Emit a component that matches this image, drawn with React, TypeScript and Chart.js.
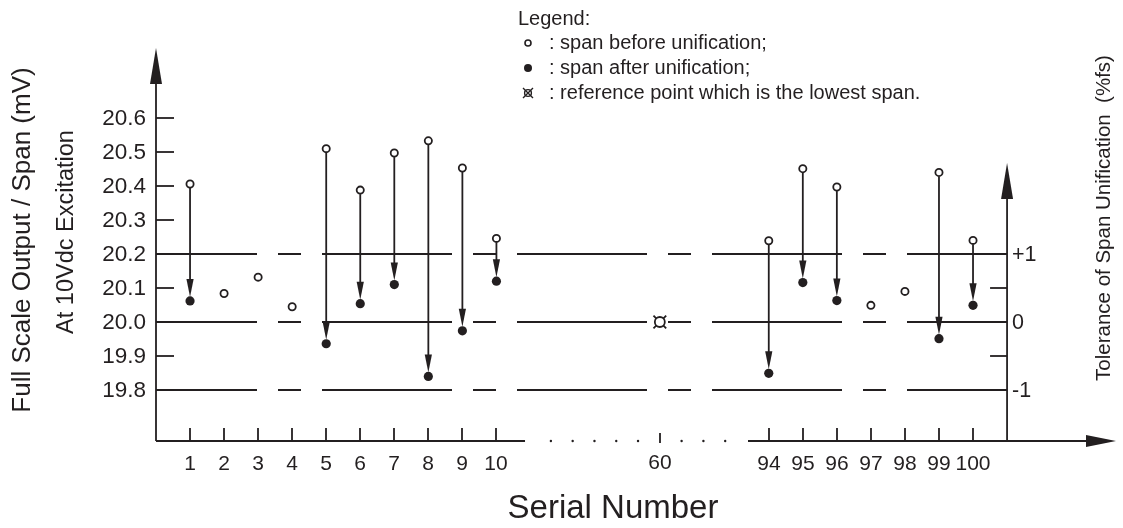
import React, { useEffect, useRef } from 'react';
import { Chart, registerables } from 'chart.js';

Chart.register(...registerables);

// ---------- data ----------
const serialLabels = ['1', '2', '3', '4', '5', '6', '7', '8', '9', '10', '94', '95', '96', '97', '98', '99', '100'];
const serialSlots = [1, 2, 3, 4, 5, 6, 7, 8, 9, 10, 18, 19, 20, 21, 22, 23, 24];
const spanBefore = [20.406, 20.084, 20.132, 20.045, 20.51, 20.388, 20.497, 20.533, 20.453, 20.246, 20.239, 20.451, 20.397, 20.049, 20.09, 20.44, 20.24];
const spanAfter: (number | null)[] = [20.062, null, null, null, 19.936, 20.054, 20.11, 19.84, 19.974, 20.12, 19.849, 20.116, 20.063, null, null, 19.951, 20.049];
const referenceLabel = '60';
const referenceSlot = 14.8;
const referenceSpan = 20.0;
const spanTicks = [19.8, 19.9, 20.0, 20.1, 20.2, 20.3, 20.4, 20.5, 20.6];
const toleranceTicks = [-1, -0.5, 0, 0.5, 1];
const toleranceLabels = ['-1', '', '0', '', '+1'];
const toleranceLines = [1, 0, -1];
const legendTitle = 'Legend:';
const legendLines = [': span before unification;', ': span after unification;', ': reference point which is the lowest span.'];
const yTitle = 'Full Scale Output / Span (mV)';
const ySubTitle = 'At 10Vdc Excitation';
const y2Title = 'Tolerance of Span Unification  (%fs)';
const xTitle = 'Serial Number';

const INK = '#231f20';
const FONT = '"Liberation Sans", Arial, Helvetica, sans-serif';

function fillArrow(ctx: CanvasRenderingContext2D, tx: number, ty: number, dx: number, dy: number, len: number, half: number) {
  const bx = tx - dx * len;
  const by = ty - dy * len;
  const nx = -dy;
  const ny = dx;
  ctx.beginPath();
  ctx.moveTo(tx, ty);
  ctx.lineTo(bx + nx * half, by + ny * half);
  ctx.lineTo(bx - nx * half, by - ny * half);
  ctx.closePath();
  ctx.fill();
}

const diagramPlugin = {
  id: 'diagram',
  beforeDatasetsDraw(chart: any) {
    const ctx: CanvasRenderingContext2D = chart.ctx;
    const xs = chart.scales.x;
    const ys = chart.scales.y;
    const ts = chart.scales.y2;
    const X = (v: number) => xs.getPixelForValue(v);
    const Y = (v: number) => ys.getPixelForValue(v);
    const T = (v: number) => ts.getPixelForValue(v);
    const area = chart.chartArea;
    const x0 = X(0);
    const xR = X(25);
    const yB = area.bottom;
    ctx.save();
    ctx.strokeStyle = INK;
    ctx.fillStyle = INK;
    ctx.lineWidth = 1.8;
    ctx.lineCap = 'butt';

    // tolerance lines (long-short dash)
    ctx.save();
    ctx.setLineDash([130, 21, 23, 21]);
    ctx.lineDashOffset = 29;
    toleranceLines.forEach((t) => {
      const y = Math.round(T(t));
      ctx.beginPath();
      ctx.moveTo(x0, y);
      ctx.lineTo(xR, y);
      ctx.stroke();
    });
    ctx.restore();

    // left axis
    ctx.beginPath();
    ctx.moveTo(x0, yB);
    ctx.lineTo(x0, area.top + 30);
    ctx.stroke();
    fillArrow(ctx, x0, area.top, 0, -1, 36, 6);
    ctx.font = `22.5px ${FONT}`;
    ctx.textAlign = 'right';
    ctx.textBaseline = 'middle';
    spanTicks.forEach((v) => {
      const y = Math.round(Y(v));
      ctx.beginPath();
      ctx.moveTo(x0, y);
      ctx.lineTo(x0 + 18, y);
      ctx.stroke();
      ctx.fillText(v.toFixed(1), x0 - 10, y + 1);
    });

    // right axis
    const rTip = T(2.34);
    ctx.beginPath();
    ctx.moveTo(xR, yB);
    ctx.lineTo(xR, rTip + 30);
    ctx.stroke();
    fillArrow(ctx, xR, rTip, 0, -1, 36, 6);
    ctx.textAlign = 'left';
    ctx.font = `21.5px ${FONT}`;
    toleranceTicks.forEach((t, i) => {
      const y = Math.round(T(t));
      ctx.beginPath();
      ctx.moveTo(xR, y);
      ctx.lineTo(xR - 17, y);
      ctx.stroke();
      if (toleranceLabels[i]) ctx.fillText(toleranceLabels[i], xR + 5, y + 1);
    });

    // bottom axis (broken)
    const xEnd = area.right;
    ctx.beginPath();
    ctx.moveTo(x0, yB);
    ctx.lineTo(X(10.84), yB);
    ctx.moveTo(X(17.39), yB);
    ctx.lineTo(xEnd - 28, yB);
    ctx.stroke();
    fillArrow(ctx, xEnd, yB, 1, 0, 30, 6);
    for (let k = -5; k <= 3; k++) {
      if (k === 0) continue;
      ctx.beginPath();
      ctx.arc(X(referenceSlot + k * 0.64), yB, 1.2, 0, Math.PI * 2);
      ctx.fill();
    }
    ctx.font = `21px ${FONT}`;
    ctx.textAlign = 'center';
    ctx.textBaseline = 'middle';
    serialSlots.forEach((s, i) => {
      const x = Math.round(X(s));
      ctx.beginPath();
      ctx.moveTo(x, yB);
      ctx.lineTo(x, yB - 13);
      ctx.stroke();
      ctx.fillText(serialLabels[i], x, yB + 23);
    });
    {
      const x = Math.round(X(referenceSlot));
      ctx.beginPath();
      ctx.moveTo(x, yB + 2);
      ctx.lineTo(x, yB - 8);
      ctx.stroke();
      ctx.fillText(referenceLabel, x, yB + 22);
    }

    // arrows before -> after
    ctx.lineWidth = 1.8;
    serialSlots.forEach((s, i) => {
      const a = spanAfter[i];
      if (a == null) return;
      const x = X(s);
      const y1 = Y(spanBefore[i]) + 4;
      const tip = Y(a) - 4;
      ctx.beginPath();
      ctx.moveTo(x, y1);
      ctx.lineTo(x, tip - 12);
      ctx.stroke();
      fillArrow(ctx, x, tip, 0, 1, 18, 3.6);
    });

    // titles
    ctx.textAlign = 'center';
    ctx.textBaseline = 'middle';
    ctx.save();
    ctx.translate(23, 240);
    ctx.rotate(-Math.PI / 2);
    ctx.font = `26px ${FONT}`;
    ctx.fillText(yTitle, 0, 0);
    ctx.restore();
    ctx.save();
    ctx.translate(67, 232);
    ctx.rotate(-Math.PI / 2);
    ctx.font = `23.5px ${FONT}`;
    ctx.fillText(ySubTitle, 0, 0);
    ctx.restore();
    ctx.save();
    ctx.translate(1104, 218);
    ctx.rotate(-Math.PI / 2);
    ctx.font = `20.5px ${FONT}`;
    ctx.fillText(y2Title, 0, 0);
    ctx.restore();
    ctx.font = `33px ${FONT}`;
    ctx.fillText(xTitle, 613, 509);

    // legend
    ctx.textAlign = 'left';
    ctx.font = `20px ${FONT}`;
    ctx.fillText(legendTitle, 518, 19);
    const rows = [43, 68, 93];
    legendLines.forEach((t, i) => ctx.fillText(t, 549, rows[i]));
    const mx = 528;
    ctx.lineWidth = 1.6;
    ctx.fillStyle = '#ffffff';
    ctx.beginPath();
    ctx.arc(mx, rows[0], 3, 0, Math.PI * 2);
    ctx.fill();
    ctx.stroke();
    ctx.fillStyle = INK;
    ctx.beginPath();
    ctx.arc(mx, rows[1], 4, 0, Math.PI * 2);
    ctx.fill();
    ctx.lineWidth = 1.4;
    ctx.beginPath();
    ctx.arc(mx, rows[2], 3.4, 0, Math.PI * 2);
    ctx.stroke();
    ctx.beginPath();
    ctx.moveTo(mx - 5, rows[2] - 5);
    ctx.lineTo(mx + 5, rows[2] + 5);
    ctx.moveTo(mx + 5, rows[2] - 5);
    ctx.lineTo(mx - 5, rows[2] + 5);
    ctx.stroke();

    ctx.restore();
  },
};

export default function App() {
  const ref = useRef<HTMLCanvasElement | null>(null);
  useEffect(() => {
    if (!ref.current) return;
    const beforePts = serialSlots.map((s, i) => ({ x: s, y: spanBefore[i] }));
    const afterPts = serialSlots
      .map((s, i) => ({ x: s, y: spanAfter[i] }))
      .filter((p) => p.y != null) as { x: number; y: number }[];
    const refPts = [{ x: referenceSlot, y: referenceSpan }];
    const chart = new Chart(ref.current, {
      type: 'scatter',
      data: {
        datasets: [
          {
            label: 'span before unification',
            data: beforePts,
            pointStyle: 'circle',
            pointRadius: 3.6,
            pointBorderWidth: 1.8,
            pointBackgroundColor: '#ffffff',
            pointBorderColor: INK,
            showLine: false,
          },
          {
            label: 'span after unification',
            data: afterPts,
            pointStyle: 'circle',
            pointRadius: 4.6,
            pointBorderWidth: 0,
            pointBackgroundColor: INK,
            pointBorderColor: INK,
            showLine: false,
          },
          {
            label: 'reference point',
            data: refPts,
            pointStyle: 'circle',
            pointRadius: 5,
            pointBorderWidth: 1.8,
            pointBackgroundColor: '#ffffff',
            pointBorderColor: INK,
            showLine: false,
          },
          {
            label: 'reference cross',
            data: refPts,
            pointStyle: 'crossRot',
            pointRadius: 9,
            pointBorderWidth: 1.8,
            pointBorderColor: INK,
            showLine: false,
          },
        ],
      },
      options: {
        responsive: false,
        animation: false,
        events: [],
        layout: { autoPadding: false, padding: { left: 156, right: 7, top: 48, bottom: 87 } },
        plugins: { legend: { display: false }, tooltip: { enabled: false } },
        scales: {
          x: { type: 'linear', min: 0, max: 28.2, display: false },
          y: { type: 'linear', min: 19.65, max: 20.806, display: false },
          y2: { type: 'linear', min: -1.75, max: 4.03, display: false, position: 'right' },
        },
      },
      plugins: [diagramPlugin],
    });
    return () => chart.destroy();
  }, []);
  return (
    <div style={{ position: 'fixed', left: 0, top: 0, width: 1123, height: 528, background: '#ffffff' }}>
      <canvas ref={ref} width={1123} height={528} style={{ display: 'block' }} />
    </div>
  );
}
